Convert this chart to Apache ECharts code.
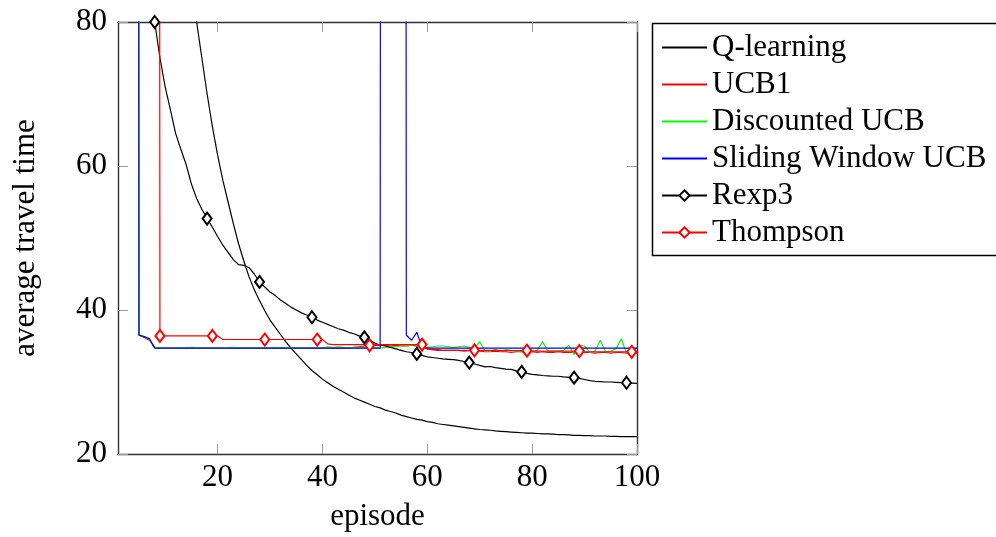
<!DOCTYPE html>
<html>
<head>
<meta charset="utf-8">
<script src="https://cdn.jsdelivr.net/npm/echarts@6/dist/echarts.min.js"></script>
<style>
  html, body { margin: 0; padding: 0; background: #fff; }
  #chart { width: 996px; height: 537px; }
</style>
</head>
<body>
<div id="chart"></div>
<script>
// Episode index (x axis)
const episodes = Array.from({ length: 100 }, (_, i) => i + 1);
const xTicks = [20, 40, 60, 80, 100];
const yTicks = [20, 40, 60, 80];

const seriesNames = ['Q-learning', 'UCB1', 'Discounted UCB', 'Sliding Window UCB', 'Rexp3', 'Thompson'];

// Average travel time per episode
const qLearning = [
  415, 370, 330, 295, 262, 232, 205, 181, 160, 142,
  127, 114, 103, 94, 86.5, 80, 75, 70, 65.5, 61.5,
  58, 55, 52, 49.2, 46.8, 44.6, 42.8, 41.3, 39.9, 38.6,
  37.6, 36.6, 35.6, 34.7, 33.9, 33.1, 32.3, 31.6, 31.0, 30.4,
  29.9, 29.4, 29.0, 28.6, 28.2, 27.8, 27.5, 27.2, 26.9, 26.6,
  26.4, 26.1, 25.9, 25.7, 25.4, 25.2, 25.0, 24.8, 24.7, 24.5,
  24.4, 24.2, 24.1, 24.0, 23.9, 23.8, 23.7, 23.6, 23.5, 23.4,
  23.35, 23.3, 23.2, 23.15, 23.1, 23.05, 23.0, 22.95, 22.9, 22.9,
  22.85, 22.8, 22.8, 22.75, 22.7, 22.7, 22.65, 22.6, 22.6, 22.55,
  22.55, 22.5, 22.5, 22.5, 22.45, 22.45, 22.4, 22.4, 22.4, 22.4
];

const ucb1 = [
  1000, 1000, 1000, 1000, 36.5, 36.2, 35.8, 34.8, 34.7, 34.7,
  34.7, 34.7, 34.7, 34.7, 34.7, 34.7, 34.7, 34.7, 34.7, 34.7,
  34.7, 34.7, 34.7, 34.7, 34.7, 34.7, 34.7, 34.7, 34.7, 34.7,
  34.7, 34.7, 34.7, 34.7, 34.7, 34.7, 34.7, 34.7, 34.7, 34.7,
  34.7, 34.7, 34.7, 34.7, 34.7, 34.8, 34.9, 35.0, 35.0, 35.1,
  35.1, 35.1, 35.0, 35.1, 35.0, 35.0, 35.1, 35.0, 34.9, 34.6,
  34.5, 34.5, 34.4, 34.4, 34.4, 34.4, 34.3, 34.4, 34.3, 34.3,
  34.2, 34.2, 34.3, 34.2, 34.2, 34.1, 34.2, 34.2, 34.1, 34.2,
  34.1, 34.2, 34.1, 34.1, 34.2, 34.1, 34.1, 34.1, 34.2, 34.1,
  34.1, 34.0, 34.1, 34.1, 34.0, 34.1, 34.1, 34.0, 34.1, 34.0
];

const discountedUcb = [
  1000, 1000, 1000, 1000, 36.5, 36.3, 36.0, 34.8, 34.7, 34.7,
  34.7, 34.7, 34.7, 34.7, 34.8, 34.7, 34.7, 34.7, 34.7, 34.7,
  34.7, 34.7, 34.8, 34.7, 34.7, 34.7, 34.7, 34.7, 34.7, 34.7,
  34.8, 34.7, 34.7, 34.7, 34.7, 34.7, 34.7, 34.7, 34.7, 34.7,
  34.9, 34.8, 34.9, 34.8, 34.7, 34.8, 34.7, 34.8, 34.8, 34.7,
  34.7, 34.8, 34.9, 34.9, 35.0, 35.0, 35.1, 34.9, 34.8, 34.8,
  34.9, 35.0, 35.0, 34.9, 34.8, 34.9, 35.0, 34.8, 34.7, 35.6,
  34.3, 34.3, 34.5, 34.3, 34.5, 34.4, 34.3, 34.2, 34.4, 34.3,
  34.4, 35.6, 34.3, 34.3, 34.3, 34.4, 35.1, 33.8, 35.1, 35.0,
  34.1, 34.3, 35.8, 34.2, 34.3, 34.6, 36.0, 34.0, 34.2, 34.8
];

const slidingWindowUcb = [
  1000, 1000, 1000, 1000, 36.5, 36.3, 36.0, 34.7, 34.7, 34.7,
  34.7, 34.7, 34.7, 34.7, 34.7, 34.7, 34.7, 34.7, 34.7, 34.7,
  34.7, 34.7, 34.7, 34.7, 34.7, 34.7, 34.7, 34.7, 34.7, 34.7,
  34.7, 34.7, 34.7, 34.7, 34.7, 34.7, 34.7, 34.7, 34.7, 34.7,
  34.7, 34.7, 34.7, 34.7, 34.7, 34.7, 34.7, 34.7, 34.7, 34.7,
  34.7, 1000, 1000, 1000, 1000, 36.5, 35.8, 36.9, 34.8, 34.7,
  34.7, 34.7, 34.7, 34.7, 34.7, 34.7, 34.7, 34.7, 34.7, 34.7,
  34.7, 34.7, 34.7, 34.7, 34.7, 34.7, 34.7, 34.7, 34.7, 34.7,
  34.7, 34.7, 34.7, 34.7, 34.7, 34.7, 34.7, 34.7, 34.7, 34.7,
  34.7, 34.7, 34.7, 34.7, 34.7, 34.7, 34.7, 34.7, 34.7, 34.7
];

const rexp3 = [
  160, 145, 132, 120, 109, 99, 89, 80, 75, 71,
  67.8, 64.5, 62.3, 60.2, 57.5, 55.5, 54, 52.7, 51.5, 50.2,
  49, 48, 47, 46.3, 46.2, 45.9, 45, 43.9, 43.2, 42.5,
  42, 41.4, 40.9, 40.4, 40, 39.6, 39.3, 39.0, 38.6, 38.3,
  38, 37.7, 37.4, 37.2, 36.9, 36.7, 36.4, 36.2, 35.8, 35.4,
  35.1, 35.0, 34.8, 34.6, 34.4, 34.2, 34.1, 33.9, 33.7, 33.5,
  33.4, 33.3, 33.2, 33.15, 33.1, 33.0, 32.85, 32.7, 32.5, 32.3,
  32.1, 32.15, 32.0, 31.9, 31.8, 31.75, 31.55, 31.4, 31.2, 31.05,
  31.0, 30.9, 30.85, 30.8, 30.8, 30.7, 30.65, 30.6, 30.5, 30.35,
  30.2, 30.1, 30.05, 30.0, 30.0, 29.95, 29.9, 29.9, 29.85, 29.8
];

const thompson = [
  1000, 1000, 1000, 1000, 1000, 1000, 1000, 1000, 36.4, 36.4,
  36.4, 36.4, 36.4, 36.4, 36.4, 36.4, 36.4, 36.4, 36.4, 36.4,
  35.9, 35.9, 35.9, 35.9, 35.9, 35.9, 35.9, 35.9, 35.9, 35.9,
  35.9, 35.9, 35.9, 35.9, 35.9, 35.9, 35.9, 35.9, 35.9, 35.9,
  35.3, 35.2, 35.2, 35.2, 35.2, 35.2, 35.2, 35.2, 35.1, 35.2,
  35.2, 35.2, 35.2, 35.2, 35.2, 35.2, 35.2, 35.2, 35.2, 34.6,
  34.5, 34.4, 34.4, 34.4, 34.4, 34.4, 34.4, 34.4, 34.4, 34.4,
  34.4, 34.4, 34.4, 34.35, 34.35, 34.35, 34.35, 34.35, 34.35, 34.3,
  34.3, 34.3, 34.3, 34.3, 34.3, 34.3, 34.3, 34.3, 34.3, 34.2,
  34.2, 34.2, 34.2, 34.2, 34.2, 34.2, 34.2, 34.2, 34.2, 34.2
];

// Episodes carrying a diamond mark
const rexp3Marks = [8, 18, 28, 38, 48, 58, 68, 78, 88, 98];
const thompsonMarks = [9, 19, 29, 39, 49, 59, 69, 79, 89, 99];

// Series drawn as plain lines (no mark in the legend either)
const plainSeries = ['Q-learning', 'UCB1', 'Discounted UCB', 'Sliding Window UCB'];

const FONT = "'Liberation Serif', 'DejaVu Serif', serif";

function pairs(vals) {
  return vals.map((v, i) => [episodes[i], v]);
}
function marked(vals, marks) {
  return vals.map((v, i) => {
    const x = episodes[i];
    return marks.includes(x) ? { value: [x, v] } : { value: [x, v], symbol: 'none' };
  });
}

function lineSeries(name, color, data, withMarks) {
  return {
    name: name,
    type: 'line',
    data: data,
    xAxisIndex: 0,
    yAxisIndex: 0,
    clip: true,
    smooth: false,
    symbol: withMarks ? 'emptyDiamond' : 'none',
    symbolSize: [9, 12],
    showSymbol: !!withMarks,
    showAllSymbol: true,
    lineStyle: { color: color, width: 1.2 },
    itemStyle: { color: color, borderColor: color, borderWidth: 1.2 },
    emphasis: { disabled: true },
    animation: false
  };
}

const axisLineStyle = { color: '#333', width: 1.4 };
const tickStyle = { color: '#999', width: 1 };
const labelStyle = { color: '#000', fontSize: 31, fontFamily: FONT };

const chart = echarts.init(document.getElementById('chart'), null, { renderer: 'canvas' });
chart.setOption({
  backgroundColor: '#fff',
  animation: false,
  grid: { left: 118, top: 22, width: 519, height: 432, containLabel: false },
  xAxis: [
    {
      type: 'value', min: 1, max: 100, position: 'bottom',
      axisLine: { show: true, onZero: false, lineStyle: axisLineStyle },
      axisTick: { show: true, inside: true, length: 10, lineStyle: tickStyle, customValues: xTicks },
      axisLabel: Object.assign({ show: true, margin: 8, customValues: xTicks }, labelStyle),
      splitLine: { show: false },
      name: 'episode', nameLocation: 'middle', nameGap: 47,
      nameTextStyle: { color: '#000', fontSize: 31, fontFamily: FONT }
    },
    {
      type: 'value', min: 1, max: 100, position: 'top',
      axisLine: { show: true, onZero: false, lineStyle: axisLineStyle },
      axisTick: { show: true, inside: true, length: 10, lineStyle: tickStyle, customValues: xTicks },
      axisLabel: { show: false },
      splitLine: { show: false }
    }
  ],
  yAxis: [
    {
      type: 'value', min: 20, max: 80, interval: 20, position: 'left',
      axisLine: { show: true, onZero: false, lineStyle: axisLineStyle },
      axisTick: { show: true, inside: true, length: 10, lineStyle: tickStyle, customValues: yTicks },
      axisLabel: Object.assign({ show: true, margin: 11, customValues: yTicks }, labelStyle),
      splitLine: { show: false },
      name: 'average travel time', nameLocation: 'middle', nameGap: 77, nameRotate: 90,
      nameTextStyle: { color: '#000', fontSize: 31, fontFamily: FONT }
    },
    {
      type: 'value', min: 20, max: 80, interval: 20, position: 'right',
      axisLine: { show: true, onZero: false, lineStyle: axisLineStyle },
      axisTick: { show: true, inside: true, length: 10, lineStyle: tickStyle, customValues: yTicks },
      axisLabel: { show: false },
      splitLine: { show: false }
    }
  ],
  legend: {
    data: seriesNames.map(n => plainSeries.includes(n) ? { name: n, itemStyle: { opacity: 0 } } : { name: n }),
    orient: 'vertical',
    left: 661,
    top: 29,
    padding: 0,
    itemGap: 0,
    itemWidth: 45,
    itemHeight: 13,
    selectedMode: false,
    textStyle: { color: '#000', fontSize: 31, fontFamily: FONT, lineHeight: 37 }
  },
  graphic: [
    {
      type: 'rect',
      z: -1,
      shape: { x: 652.5, y: 23.5, width: 400, height: 232 },
      style: { fill: '#fff', stroke: '#000', lineWidth: 1.5 }
    }
  ],
  series: [
    lineSeries('Q-learning', '#000000', pairs(qLearning), false),
    lineSeries('UCB1', '#ff0000', pairs(ucb1), false),
    lineSeries('Discounted UCB', '#00ff00', pairs(discountedUcb), false),
    lineSeries('Sliding Window UCB', '#0000ff', pairs(slidingWindowUcb), false),
    lineSeries('Rexp3', '#000000', marked(rexp3, rexp3Marks), true),
    lineSeries('Thompson', '#ff0000', marked(thompson, thompsonMarks), true)
  ]
});
</script>
</body>
</html>
